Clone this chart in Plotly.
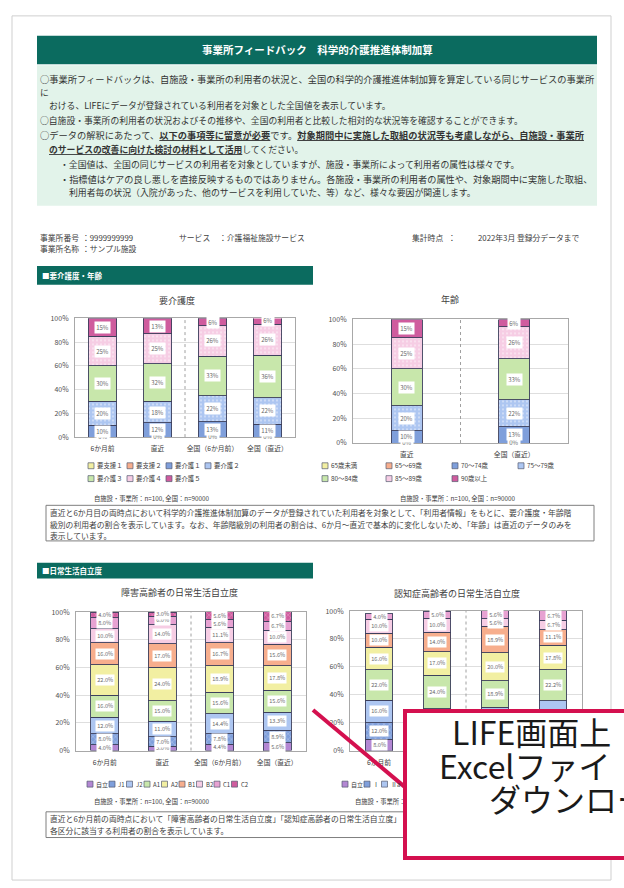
import plotly.graph_objects as go

W, H = 624, 888
FONT = "Noto Sans CJK JP, Noto Sans, sans-serif"

# ---------------- data ----------------
care_cats = ["6か月前", "直近", "全国（6か月前）", "全国（直近）"]
care_names = ["要支援１", "要支援２", "要介護１", "要介護２", "要介護３", "要介護４", "要介護５"]
care_shien1 = [0, 0, 0, 0]
care_shien2 = [0, 0, 0, 0]
care_kaigo1 = [10, 12, 13, 11]
care_kaigo2 = [20, 18, 22, 22]
care_kaigo3 = [30, 32, 33, 36]
care_kaigo4 = [25, 25, 26, 26]
care_kaigo5 = [15, 13, 6, 6]

age_cats = ["直近", "全国（直近）"]
age_names = ["65歳未満", "65～69歳", "70～74歳", "75～79歳", "80～84歳", "85～89歳", "90歳以上"]
age_u65 = [0, 0]
age_65_69 = [0, 0]
age_70_74 = [10, 13]
age_75_79 = [20, 22]
age_80_84 = [30, 33]
age_85_89 = [25, 26]
age_90 = [15, 6]

adl_cats = ["6か月前", "直近", "全国（6か月前）", "全国（直近）"]
adl_names = ["自立", "J1", "J2", "A1", "A2", "B1", "B2", "C1", "C2"]
adl_jiritsu = [4.0, 3.0, 4.4, 5.6]
adl_j1 = [8.0, 7.0, 7.8, 8.9]
adl_j2 = [12.0, 11.0, 14.4, 13.3]
adl_a1 = [16.0, 15.0, 15.6, 15.6]
adl_a2 = [22.0, 24.0, 18.9, 17.8]
adl_b1 = [16.0, 17.0, 16.7, 15.6]
adl_b2 = [10.0, 14.0, 11.1, 10.0]
adl_c1 = [8.0, 6.0, 5.6, 6.7]
adl_c2 = [4.0, 3.0, 5.6, 6.7]

dem_cats = ["6か月前", "直近", "全国（6か月前）", "全国（直近）"]
dem_names = ["自立", "Ⅰ", "Ⅱa", "Ⅱb", "Ⅲa", "Ⅲb", "Ⅳ", "M"]
dem_jiritsu = [8.0, 5.0, 5.6, 6.7]
dem_1 = [12.0, 10.0, 10.0, 12.2]
dem_2a = [16.0, 15.0, 15.6, 16.7]
dem_2b = [22.0, 24.0, 18.9, 22.2]
dem_3a = [16.0, 17.0, 20.0, 17.8]
dem_3b = [10.0, 14.0, 18.9, 11.1]
dem_4 = [10.0, 10.0, 5.6, 6.7]
dem_m = [4.0, 5.0, 5.6, 6.7]

y_ticks = [0, 20, 40, 60, 80, 100]
y_tick_text = ["0%", "20%", "40%", "60%", "80%", "100%"]

# ---------------- styles ----------------
YELLOW, ORANGE = "#f2efa2", "#f7ae8d"
BLUE, LBLUE = "#7f9fdb", "#adc6f1"
GREEN, LPINK = "#c8e7ab", "#f6cde4"
MAGENTA, PURPLE, PINK = "#cf5c9e", "#b387d3", "#e7a2d2"
care_colors = [YELLOW, ORANGE, BLUE, LBLUE, GREEN, LPINK, MAGENTA]
care_pat = [None, None, None, ".", None, ".", None]
adl_colors = [PURPLE, BLUE, LBLUE, GREEN, YELLOW, ORANGE, LPINK, PINK, MAGENTA]
adl_pat = [None, "x", None, None, None, None, None, None, "x"]
dem_colors = [PURPLE, BLUE, LBLUE, GREEN, YELLOW, ORANGE, LPINK, PINK]
dem_pat = [None, "x", None, None, None, None, None, None]

# callout box region (page pixels)
CB_X0, CB_Y0, CB_Y1 = 403, 711, 862


def px(x):
    return x / W


def py(y):
    return 1 - y / H


fig = go.Figure()
annotations = []
shapes = []


def txt(x, y, s, size=7, color="#404040", anchor="left", yanchor="middle", bold=False):
    if bold:
        s = "<b>" + s + "</b>"
    annotations.append(dict(x=px(x), y=py(y), xref="paper", yref="paper", text=s,
                            showarrow=False, xanchor=anchor, yanchor=yanchor,
                            font=dict(size=size, color=color, family=FONT)))


def rect(x0, y0, x1, y1, fill=None, line=None, lw=1):
    shapes.append(dict(type="rect", xref="paper", yref="paper",
                       x0=px(x0), x1=px(x1), y0=py(y0), y1=py(y1),
                       fillcolor=fill if fill else "rgba(0,0,0,0)",
                       line=dict(color=line if line else "rgba(0,0,0,0)", width=lw if line else 0),
                       layer="below"))


chart_geom = {}


def add_chart(idx, cats, names, series, colors, pats, width, fmt, lab_size):
    ax = "" if idx == 1 else str(idx)
    x0, x1, y0, y1 = chart_geom[idx]
    ncat = len(cats)
    cum = [0.0] * ncat
    zero_done = set()
    for name, vals, col, pat in zip(names, series, colors, pats):
        marker = dict(color=col, line=dict(color="#3c3f5c", width=0.9))
        if pat:
            marker["pattern"] = dict(shape=pat, size=4, solidity=0.2,
                                     fgcolor="white", fgopacity=0.5)
        fig.add_trace(go.Bar(x=cats, y=vals, name=name, marker=marker, width=width,
                             xaxis="x" + ax, yaxis="y" + ax, showlegend=False,
                             hoverinfo="skip"))
        for i, v in enumerate(vals):
            mid = cum[i] + v / 2
            cum[i] += v
            # identical zero labels stacked at the same spot are drawn once
            if v == 0:
                if i in zero_done:
                    continue
                zero_done.add(i)
            # labels hidden under the callout box are not drawn
            cx = x0 + (i + 0.5) * (x1 - x0) / ncat
            cy = y1 - mid / 100 * (y1 - y0)
            if cx - 12 > CB_X0 and cy > CB_Y0 - 2:
                continue
            annotations.append(dict(x=cats[i], y=mid if v > 0 else 0.8,
                                    xref="x" + ax, yref="y" + ax,
                                    text=fmt.format(v), showarrow=False,
                                    bgcolor="white", borderpad=1.2,
                                    font=dict(size=lab_size, color="#6a6a6a", family=FONT)))


def axes(idx, cats, x0, x1, y0, y1, sep):
    chart_geom[idx] = (x0, x1, y0, y1)
    ncat = len(cats)
    ax = "" if idx == 1 else str(idx)
    # category labels that would sit entirely under the callout box are left blank
    tick_text = []
    for i, c in enumerate(cats):
        cx = x0 + (i + 0.5) * (x1 - x0) / ncat
        hidden = y1 + 11 > CB_Y0 and cx - 25 > CB_X0
        tick_text.append("" if hidden else c)
    xa = dict(domain=[px(x0), px(x1)], range=[-0.5, ncat - 0.5], type="category",
              anchor="y" + ax, showline=True, mirror=True, linecolor="#a8a8a8", linewidth=1,
              ticks="", showgrid=False, tickfont=dict(size=6.8, color="#404040", family=FONT),
              tickmode="array", tickvals=cats, ticktext=tick_text,
              ticklabelstandoff=5, fixedrange=True)
    ya = dict(domain=[py(y1), py(y0)], range=[0, 100], anchor="x" + ax,
              showline=True, mirror=True, linecolor="#a8a8a8", linewidth=1,
              tickmode="array", tickvals=y_ticks, ticktext=y_tick_text, ticks="",
              showgrid=True, gridcolor="#dedede", gridwidth=0.8,
              tickfont=dict(size=7, color="#505050", family=FONT), ticklabelstandoff=4,
              fixedrange=True)
    fig.update_layout(**{"xaxis" + ax: xa, "yaxis" + ax: ya})
    shapes.append(dict(type="line", xref="x" + ax, yref="y" + ax + " domain",
                       x0=sep, x1=sep, y0=0, y1=1,
                       line=dict(color="#a0a0a0", width=1, dash="dot"), layer="above"))


def legend_rows(rows, names, colors, size=6.4):
    k = 0
    for (y, xs) in rows:
        for x in xs:
            rect(x, y - 3, x + 6, y + 3, fill=colors[k], line="#555a70", lw=0.7)
            txt(x + 7.3, y, names[k], size=size, color="#404040")
            k += 1


# ---------------- page frame ----------------
rect(12, 10, 611, 884, line="#cfcfcf", lw=1)

# header
rect(37, 30, 597, 59, fill="#0b6b5f")
txt(317, 44.5, "事業所フィードバック　科学的介護推進体制加算", size=10.5, color="white",
    anchor="center", bold=True)
rect(37, 60, 597, 202, fill="#e2f3ea")
info = [
    (38, 74, 9.25, "○事業所フィードバックは、自施設・事業所の利用者の状況と、全国の科学的介護推進体制加算を算定している同じサービスの事業所"),
    (38, 87, 8.8, "に"),
    (47, 101, 8.8, "おける、LIFEにデータが登録されている利用者を対象とした全国値を表示しています。"),
    (38, 116, 8.8, "○自施設・事業所の利用者の状況およびその推移や、全国の利用者と比較した相対的な状況等を確認することができます。"),
    (38, 130, 9.25, "○データの解釈にあたって、<u><b>以下の事項等に留意が必要</b></u>です。<u><b>対象期間中に実施した取組の状況等も考慮しながら、自施設・事業所</b></u>"),
    (47, 145, 8.8, "<u><b>のサービスの改善に向けた検討の材料として活用</b></u>してください。"),
    (58, 160, 8.9, "・全国値は、全国の同じサービスの利用者を対象としていますが、施設・事業所によって利用者の属性は様々です。"),
    (58, 175, 9.2, "・指標値はケアの良し悪しを直接反映するものではありません。各施設・事業所の利用者の属性や、対象期間中に実施した取組、"),
    (67, 189, 8.9, "利用者毎の状況（入院があった、他のサービスを利用していた、等）など、様々な要因が関連します。"),
]
for x, y, s_, s in info:
    txt(x, y, s, size=s_, color="#333333")

# facility info
txt(38, 234, "事業所番号", size=7.8)
txt(80, 234, "：9999999999", size=7.8)
txt(177, 234, "サービス", size=7.8)
txt(217, 234, "：介護福祉施設サービス", size=7.8)
txt(410, 234, "集計時点", size=7.8)
txt(446, 234, "：", size=7.8)
txt(476, 234, "2022年3月 登録分データまで", size=7.8)
txt(38, 245, "事業所名称", size=7.8)
txt(80, 245, "：サンプル施設", size=7.8)

# section 1
rect(37, 263, 313, 282, fill="#0b6b5f")
txt(40, 272.5, "■要介護度・年齢", size=7.5, color="white", bold=True)

txt(177, 298, "要介護度", size=9, color="#404040", anchor="center")
txt(450, 297, "年齢", size=9, color="#404040", anchor="center")

axes(1, care_cats, 75, 295, 316, 436, 1.5)
add_chart(1, care_cats, care_names,
          [care_shien1, care_shien2, care_kaigo1, care_kaigo2, care_kaigo3, care_kaigo4, care_kaigo5],
          care_colors, care_pat, 0.51, "{:.0f}%", 6)
axes(2, age_cats, 353, 568, 317, 442, 0.5)
add_chart(2, age_cats, age_names,
          [age_u65, age_65_69, age_70_74, age_75_79, age_80_84, age_85_89, age_90],
          care_colors, care_pat, 0.285, "{:.0f}%", 6)

legend_rows([(465, [88, 127, 166, 205]), (478, [88, 127, 166])], care_names, care_colors)
legend_rows([(465, [322, 386, 452, 518]), (478, [322, 386, 452])], age_names, care_colors)

txt(152, 498, "自施設・事業所：n=100, 全国：n=90000", size=6.3, anchor="center")
txt(458, 498, "自施設・事業所：n=100, 全国：n=90000", size=6.3, anchor="center")

rect(46, 505, 594, 541, fill="white", line="#7f7f7f", lw=1)
txt(48, 512, "直近と6か月目の両時点において科学的介護推進体制加算のデータが登録されていた利用者を対象として、「利用者情報」をもとに、要介護度・年齢階", size=7.8)
txt(48, 524.5, "級別の利用者の割合を表示しています。なお、年齢階級別の利用者の割合は、6か月～直近で基本的に変化しないため、「年齢」は直近のデータのみを", size=7.8)
txt(48, 536, "表示しています。", size=7.8)

# section 2
rect(37, 563, 313, 579, fill="#0b6b5f")
txt(40, 571, "■日常生活自立度", size=7.5, color="white", bold=True)

txt(180, 593, "障害高齢者の日常生活自立度", size=9, color="#404040", anchor="center")
txt(457, 594, "認知症高齢者の日常生活自立度", size=9, color="#404040", anchor="center")

axes(3, adl_cats, 76, 306, 613, 753, 1.5)
add_chart(3, adl_cats, adl_names,
          [adl_jiritsu, adl_j1, adl_j2, adl_a1, adl_a2, adl_b1, adl_b2, adl_c1, adl_c2],
          adl_colors, adl_pat, 0.48, "{:.1f}%", 5.6)
axes(4, dem_cats, 350, 582, 612, 753, 1.5)
add_chart(4, dem_cats, dem_names,
          [dem_jiritsu, dem_1, dem_2a, dem_2b, dem_3a, dem_3b, dem_4, dem_m],
          dem_colors, dem_pat, 0.48, "{:.1f}%", 5.6)

legend_rows([(787, [87, 109, 126.5, 144, 161.5, 179, 196.5, 214, 231.5])], adl_names, adl_colors, size=6)
legend_rows([(787, [342, 364, 381.5])], dem_names[:3], dem_colors, size=6)

txt(152, 805, "自施設・事業所：n=100, 全国：n=90000", size=6.3, anchor="center")
txt(353, 805, "自施設・事業所：n=100", size=6.3, anchor="left")

rect(46, 815, 594, 841, fill="white", line="#7f7f7f", lw=1)
txt(48, 822, "直近と6か月前の両時点において「障害高齢者の日常生活自立度」「認知症高齢者の日常生活自立度」", size=7.8)
txt(48, 834, "各区分に該当する利用者の割合を表示しています。", size=7.8)

# callout
shapes.append(dict(type="line", xref="paper", yref="paper",
                   x0=px(313), y0=py(712), x1=px(405), y1=py(790),
                   line=dict(color="#d4104f", width=4), layer="above"))
annotations.append(dict(x=px(CB_X0), y=py(CB_Y0), xref="paper", yref="paper", text=" ",
                        showarrow=False, xanchor="left", yanchor="top",
                        width=320, height=CB_Y1 - CB_Y0 - 8, bgcolor="white",
                        bordercolor="#d4104f", borderwidth=4, borderpad=0))
for x, y, s in [(450, 733, "LIFE画面上"), (437, 768, "Excelファイ"), (487, 801, "ダウンロー")]:
    txt(x, y, s, size=32, color="#1a1a1a")

fig.update_layout(
    width=W, height=H, margin=dict(l=0, r=0, t=0, b=0),
    paper_bgcolor="white", plot_bgcolor="white",
    barmode="stack", showlegend=False,
    annotations=annotations, shapes=shapes,
    font=dict(family=FONT),
)
fig.write_html("out.html", config={"displayModeBar": False},
               post_script="document.body.style.margin='0px';document.body.style.overflow='hidden';")
